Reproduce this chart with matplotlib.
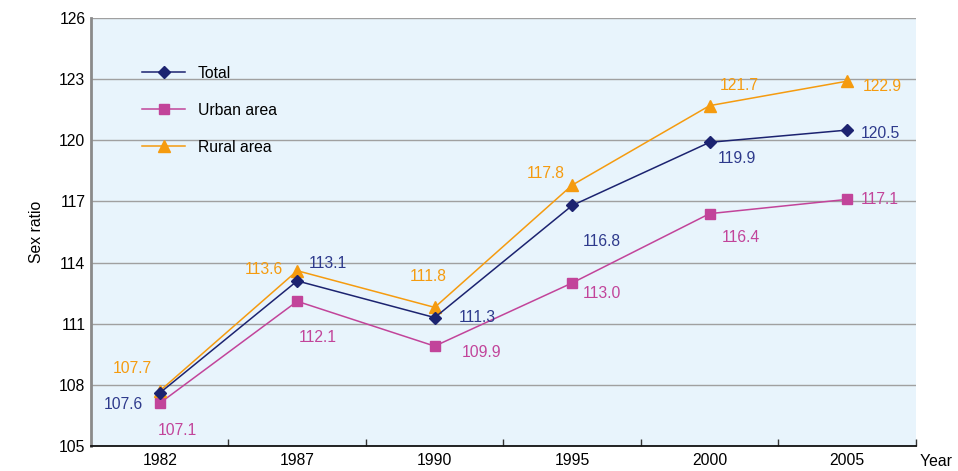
import matplotlib.pyplot as plt
from matplotlib.ticker import FixedLocator

years = ['1982', '1987', '1990', '1995', '2000', '2005']
total = [107.6, 113.1, 111.3, 116.8, 119.9, 120.5]
urban = [107.1, 112.1, 109.9, 113.0, 116.4, 117.1]
rural = [107.7, 113.6, 111.8, 117.8, 121.7, 122.9]

# label offsets in pixels (dx, dy) for each point
total_off = [(-36, -12), (31, 17), (43, 0), (30, -36), (27, -16), (33, -3)]
urban_off = [(18, -27), (21, -36), (47, -6), (30, -11), (31, -24), (33, 0)]
rural_off = [(-27, 22), (-33, 1), (-7, 31), (-26, 12), (30, 20), (35, -5)]

c_total = '#1c2370'
c_total_txt = '#2e3a8c'
c_urban = '#c2449a'
c_rural = '#f59b0f'

plt.rcParams['font.family'] = ['Liberation Sans', 'DejaVu Sans']
fs = 11.3

fig = plt.figure(figsize=(9.58, 4.71), dpi=100)
ax = fig.add_axes([0.095, 0.0531, 0.861, 0.9087])
ax.set_facecolor('#e8f4fc')

x = list(range(len(years)))
ax.plot(x, total, color=c_total, lw=1.1, marker='D', ms=6.5, label='Total', zorder=4)
ax.plot(x, urban, color=c_urban, lw=1.1, marker='s', ms=6.5, label='Urban area', zorder=3)
ax.plot(x, rural, color=c_rural, lw=1.1, marker='^', ms=8, label='Rural area', zorder=3)

for vals, offs, col in [(total, total_off, c_total_txt), (urban, urban_off, c_urban),
                        (rural, rural_off, c_rural)]:
    for xi, v, (dx, dy) in zip(x, vals, offs):
        ax.annotate(f'{v:.1f}', (xi, v), xytext=(dx, dy), textcoords='offset pixels',
                    ha='center', va='center', color=col, fontsize=fs)

ax.set_xlim(-0.5, len(years) - 0.5)
ax.set_ylim(105, 126)
ax.set_yticks(range(105, 127, 3))
ax.tick_params(axis='y', length=0, labelsize=fs, pad=4)
ax.set_xticks(x)
ax.set_xticklabels(years)
ax.tick_params(axis='x', which='major', length=0, labelsize=fs, pad=5)
ax.xaxis.set_minor_locator(FixedLocator([i + 0.5 for i in x]))
ax.tick_params(axis='x', which='minor', direction='in', length=5, width=1, color='#333333')
ax.grid(axis='y', color='#a0a0a0', lw=1)
ax.set_axisbelow(True)

for s in ['top', 'right']:
    ax.spines[s].set_visible(False)
ax.spines['left'].set_color('#8a8a8a')
ax.spines['left'].set_linewidth(2)
ax.spines['bottom'].set_color('#111111')
ax.spines['bottom'].set_linewidth(1.3)

ax.set_ylabel('Sex ratio', fontsize=fs, labelpad=11)
ax.text(1.0, -0.037, ' Year', transform=ax.transAxes, ha='left', va='center', fontsize=fs)

ax.legend(loc='upper left', bbox_to_anchor=(0.062, 0.888), frameon=False, fontsize=fs,
          labelspacing=1.4, handlelength=2.75, handletextpad=0.8,
          borderpad=0, borderaxespad=0)

fig.savefig('out.png', dpi=100)
